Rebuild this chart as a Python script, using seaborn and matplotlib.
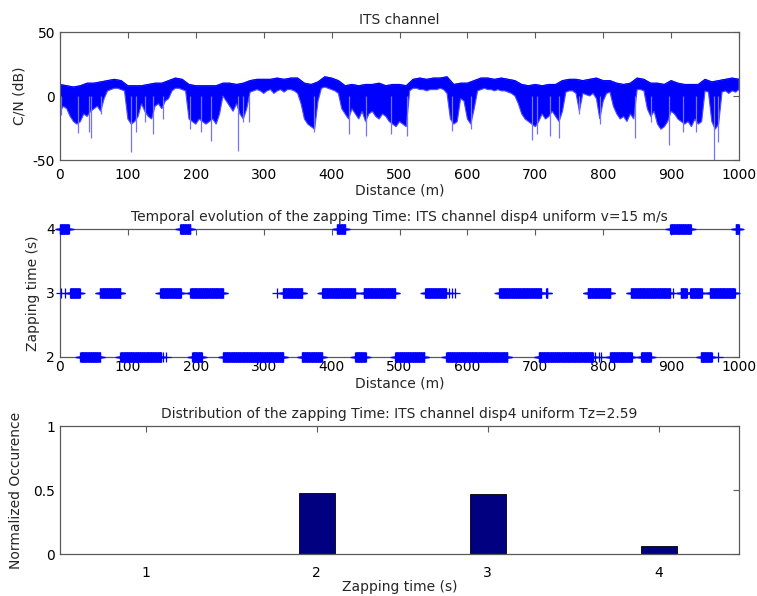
import numpy as np
import pandas as pd
import matplotlib
matplotlib.use("Agg")
import matplotlib.pyplot as plt
import seaborn as sns

# ---------------- data ----------------
# Top panel: C/N (dB) signal read as envelopes
dist_upper = np.arange(0, 1001, 10)
cn_upper = [9, 8, 7, 8, 10, 10, 11, 12, 13, 12, 8, 8, 8, 9, 10, 10, 12, 14, 13, 9,
            8, 8, 8, 8, 10, 10, 9, 10, 12, 13, 13, 13, 14, 13, 14, 14, 10, 9, 11, 15,
            14, 12, 8, 9, 8, 9, 9, 10, 8, 9, 9, 8, 13, 14, 13, 14, 14, 15, 9, 10,
            10, 12, 14, 14, 13, 14, 13, 12, 9, 8, 9, 8, 9, 9, 12, 13, 13, 12, 13, 14,
            12, 12, 10, 9, 10, 14, 13, 10, 10, 9, 12, 10, 9, 9, 9, 13, 11, 12, 13, 14, 13]
dist_lower = np.arange(0, 1001, 5)
cn_lower = [-12, -8, -10, -16, -20, -22, -20, -14, -16, -12, -10, -8, -12, -2, 4, 5, 6, 6, 5, 4,
            -18, -22, -20, -16, -6, -12, -16, -18, -8, -6, -10, -4, -2, 4, 6, 6, 5, 4,
            -18, -20, -22, -18, -20, -22, -20, -18, -22, -14, 0, -4, -8, -12, -6, -14, -18, -10, 3, 4,
            5, 4, 2, 4, 5, 2, 4, 5, 3, 5, 5, 4, 2, -6, -18, -22, -24, -26, -4, 6,
            7, 6, 5, 4, 2, -10, -14, -18, -10, -14, -18, -12, -20, -14, -12, -16, -18, -14, -16, -20,
            -22, -24, -20, -22, -24, 4, 6, 6, 5, 5, 4, 5, 5, 5, 6, 5, 2, -18, -22, -20,
            -2, -4, -18, -22, -10, 4, 5, 6, 5, 5, 4, 5, 4, 4, 3, 2, 0, -6, -14, -18,
            -20, -22, -24, -20, -14, -18, -16, -12, -16, -20, -12, 3, 4, 4, 2, -12, 2, 1, 0, 2,
            -2, -18, -4, 2, 3, -8, -14, -18, -16, -20, -14, -18, 5, 5, 4, -10, -16, -12, -22, -26,
            -24, -20, -12, -14, -18, -20, -22, -20, -24, -18, -22, -20, 4, 3, -20, -26, -22, 3, 4, 2,
            4, 3, 5]
spike_dist = [2, 27, 42, 46, 61, 104, 112, 125, 137, 152, 192, 208, 223, 262, 270, 278,
              374, 425, 451, 488, 511, 577, 606, 695, 702, 721, 735, 765, 795, 847, 871,
              897, 918, 937, 963, 969]
spike_cn = [-15, -29, -28, -33, -14, -44, -28, -20, -30, -18, -26, -28, -35, -43, -20, -20,
            -28, -30, -31, -30, -31, -27, -26, -34, -30, -31, -33, -14, -22, -33, -20,
            -38, -28, -28, -50, -36]

# Middle panel: zapping time per distance (intervals of constant value)
zap_levels = [4, 3, 2]
zap_intervals = {
    4: [(0, 13), (177, 192), (408, 420), (899, 929), (995, 1000)],
    3: [(15, 29), (59, 89), (148, 178), (192, 240), (328, 357), (386, 435), (447, 494),
        (538, 569), (647, 709), (716, 718), (777, 811), (841, 899), (914, 923),
        (928, 945), (957, 994)],
    2: [(30, 59), (89, 149), (195, 209), (240, 329), (356, 386), (435, 450), (494, 537),
        (569, 647), (648, 659), (705, 785), (810, 842), (856, 870), (944, 960)],
}
zap_single = {
    4: [],
    3: [2, 7, 320, 573, 577, 582, 903],
    2: [152, 156, 788, 794, 797, 969],
}

# Bottom panel: distribution
zap_time = [1, 2, 3, 4]
occurrence = [0.0, 0.48, 0.47, 0.065]

# ---------------- style ----------------
sns.set_style("white")
plt.rcParams['font.family'] = ['DejaVu Sans']
plt.rcParams['font.size'] = 10
plt.rcParams['axes.unicode_minus'] = False
plt.rcParams['axes.edgecolor'] = '#5a5a5a'
plt.rcParams['axes.linewidth'] = 0.9
plt.rcParams['xtick.direction'] = 'in'
plt.rcParams['ytick.direction'] = 'in'
plt.rcParams['xtick.top'] = True
plt.rcParams['ytick.right'] = True
plt.rcParams['xtick.major.size'] = 4
plt.rcParams['ytick.major.size'] = 4
plt.rcParams['xtick.color'] = '#5a5a5a'
plt.rcParams['ytick.color'] = '#5a5a5a'
plt.rcParams['xtick.labelcolor'] = 'black'
plt.rcParams['ytick.labelcolor'] = 'black'

fig = plt.figure(figsize=(7.57, 5.96), dpi=100)
W, H = 757, 596
def add_ax(top_px):
    return fig.add_axes([60 / W, 1 - (top_px + 128) / H, 679 / W, 128 / H])

ax1 = add_ax(32)
ax2 = add_ax(229)
ax3 = add_ax(426)

blue = (0, 0, 1)
fs = 10

# ---- top ----
poly_x = np.concatenate([dist_upper, dist_lower[::-1]])
poly_y = np.concatenate([np.array(cn_upper, float), np.array(cn_lower, float)[::-1]])
ax1.fill(poly_x, poly_y, facecolor=blue, edgecolor=(0.3, 0.3, 1), linewidth=0.8)
sns.lineplot(x=dist_upper, y=cn_upper, ax=ax1, color=blue, linewidth=0.8)
ax1.vlines(spike_dist, 0, spike_cn, color=(0.45, 0.45, 1), linewidth=0.9)
ax1.set_xlim(0, 1000)
ax1.set_ylim(-50, 50)
ax1.set_xticks(np.arange(0, 1001, 100))
ax1.set_yticks([-50, 0, 50])
ax1.set_title("ITS channel", fontsize=fs, pad=6)
ax1.set_xlabel("Distance (m)")
ax1.set_ylabel("C/N (dB)")
ax1.yaxis.set_label_coords(-0.049, 0.5)
ax1.xaxis.set_label_coords(0.5, -0.18)
ax1.tick_params(axis='x', pad=5.5)

# ---- middle ----
for lvl in zap_levels:
    pts = [np.arange(a, b + 0.01, 0.6) for a, b in zap_intervals[lvl]]
    pts.append(np.array(zap_single[lvl], float))
    xs = np.concatenate(pts)
    ax2.plot(xs, np.full_like(xs, lvl), linestyle='none', marker='+',
             markersize=7, markeredgewidth=0.9, color=blue,
             clip_on=False, zorder=3)
ax2.set_xlim(0, 1000)
ax2.set_ylim(2, 4)
ax2.set_xticks(np.arange(0, 1001, 100))
ax2.set_yticks([2, 3, 4])
ax2.set_title("Temporal evolution of the zapping Time: ITS channel disp4 uniform v=15 m/s",
              fontsize=fs, pad=6)
ax2.set_xlabel("Distance (m)")
ax2.set_ylabel("Zapping time (s)")
ax2.yaxis.set_label_coords(-0.029, 0.5)
ax2.xaxis.set_label_coords(0.5, -0.15)
ax2.tick_params(axis='x', pad=2.5)

# ---- bottom ----
df = pd.DataFrame({"zap": zap_time, "occ": occurrence})
sns.barplot(data=df, x="zap", y="occ", ax=ax3, native_scale=True, width=0.21,
            color=(0, 0, 0.5), saturation=1, edgecolor='black', linewidth=0.6)
ax3.set_xlim(0.5, 4.47)
ax3.set_ylim(0, 1)
ax3.set_xticks(zap_time)
ax3.set_xticklabels([str(v) for v in zap_time])
ax3.set_yticks([0, 0.5, 1])
ax3.set_yticklabels(["0", "0.5", "1"])
ax3.set_title("Distribution of the zapping Time: ITS channel disp4 uniform Tz=2.59",
              fontsize=fs, pad=6)
ax3.set_xlabel("Zapping time (s)")
ax3.set_ylabel("Normalized Occurence")
ax3.yaxis.set_label_coords(-0.054, 0.5)
ax3.xaxis.set_label_coords(0.5, -0.205)
ax3.tick_params(axis='x', pad=8.5)

for ax in (ax1, ax2, ax3):
    ax.tick_params(axis='y', pad=3.6)
    ax.tick_params(axis='both', labelsize=fs)
    for sp in ax.spines.values():
        sp.set_visible(True)

fig.savefig("out.png", dpi=100)
